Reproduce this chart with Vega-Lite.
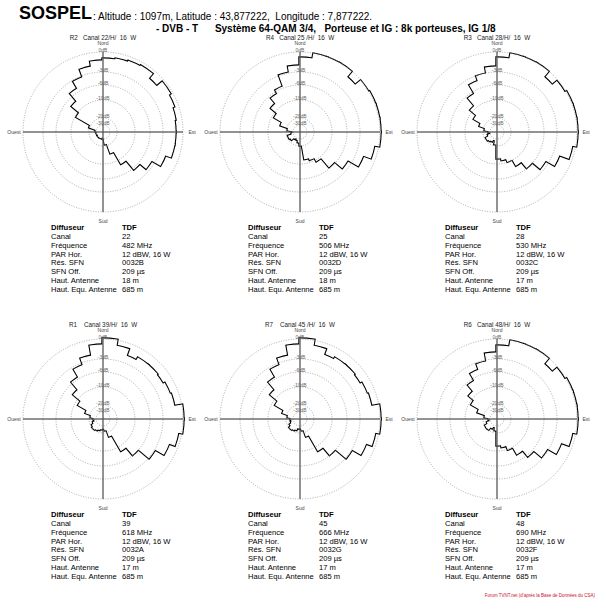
{
"$schema": "https://vega.github.io/schema/vega-lite/v6.json",
"background": "white",
"padding": {"left": 7, "top": 4, "right": 0, "bottom": 0},
"config": {"view": {"stroke": null}, "font": "Liberation Sans", "title": {"font": "Liberation Sans", "color": "#000"}},
"title": {"text": "SOSPEL", "anchor": "start", "frame": "group", "fontSize": 18, "fontWeight": "bold", "dx": 11, "offset": -11},
"datasets": {
"compass": [{"ang": 0, "lab": "Nord"}, {"ang": 90, "lab": "Est"}, {"ang": 180, "lab": "Sud"}, {"ang": 270, "lab": "Ouest"}],
"rings": [{"lvl": 80, "lab": "0dB"}, {"lvl": 60, "lab": "-3dB"}, {"lvl": 47, "lab": "-6dB"}, {"lvl": 32, "lab": "-10dB"}, {"lvl": 14, "lab": "-20dB"}, {"lvl": 7, "lab": "-30dB"}],
"tab": [
{"p":"R2","row":0,"label":"Diffuseur","value":"TDF"},{"p":"R2","row":1,"label":"Canal","value":"22"},{"p":"R2","row":2,"label":"Fréquence","value":"482 MHz"},{"p":"R2","row":3,"label":"PAR Hor.","value":"12 dBW, 16 W"},{"p":"R2","row":4,"label":"Rés. SFN","value":"0032B"},{"p":"R2","row":5,"label":"SFN Off.","value":"209 µs"},{"p":"R2","row":6,"label":"Haut. Antenne","value":"18 m"},{"p":"R2","row":7,"label":"Haut. Equ. Antenne","value":"685 m"},
{"p":"R4","row":0,"label":"Diffuseur","value":"TDF"},{"p":"R4","row":1,"label":"Canal","value":"25"},{"p":"R4","row":2,"label":"Fréquence","value":"506 MHz"},{"p":"R4","row":3,"label":"PAR Hor.","value":"12 dBW, 16 W"},{"p":"R4","row":4,"label":"Rés. SFN","value":"0032D"},{"p":"R4","row":5,"label":"SFN Off.","value":"209 µs"},{"p":"R4","row":6,"label":"Haut. Antenne","value":"18 m"},{"p":"R4","row":7,"label":"Haut. Equ. Antenne","value":"685 m"},
{"p":"R3","row":0,"label":"Diffuseur","value":"TDF"},{"p":"R3","row":1,"label":"Canal","value":"28"},{"p":"R3","row":2,"label":"Fréquence","value":"530 MHz"},{"p":"R3","row":3,"label":"PAR Hor.","value":"12 dBW, 16 W"},{"p":"R3","row":4,"label":"Rés. SFN","value":"0032C"},{"p":"R3","row":5,"label":"SFN Off.","value":"209 µs"},{"p":"R3","row":6,"label":"Haut. Antenne","value":"17 m"},{"p":"R3","row":7,"label":"Haut. Equ. Antenne","value":"685 m"},
{"p":"R1","row":0,"label":"Diffuseur","value":"TDF"},{"p":"R1","row":1,"label":"Canal","value":"39"},{"p":"R1","row":2,"label":"Fréquence","value":"618 MHz"},{"p":"R1","row":3,"label":"PAR Hor.","value":"12 dBW, 16 W"},{"p":"R1","row":4,"label":"Rés. SFN","value":"0032A"},{"p":"R1","row":5,"label":"SFN Off.","value":"209 µs"},{"p":"R1","row":6,"label":"Haut. Antenne","value":"17 m"},{"p":"R1","row":7,"label":"Haut. Equ. Antenne","value":"685 m"},
{"p":"R7","row":0,"label":"Diffuseur","value":"TDF"},{"p":"R7","row":1,"label":"Canal","value":"45"},{"p":"R7","row":2,"label":"Fréquence","value":"666 MHz"},{"p":"R7","row":3,"label":"PAR Hor.","value":"12 dBW, 16 W"},{"p":"R7","row":4,"label":"Rés. SFN","value":"0032G"},{"p":"R7","row":5,"label":"SFN Off.","value":"209 µs"},{"p":"R7","row":6,"label":"Haut. Antenne","value":"17 m"},{"p":"R7","row":7,"label":"Haut. Equ. Antenne","value":"685 m"},
{"p":"R6","row":0,"label":"Diffuseur","value":"TDF"},{"p":"R6","row":1,"label":"Canal","value":"48"},{"p":"R6","row":2,"label":"Fréquence","value":"690 MHz"},{"p":"R6","row":3,"label":"PAR Hor.","value":"12 dBW, 16 W"},{"p":"R6","row":4,"label":"Rés. SFN","value":"0032F"},{"p":"R6","row":5,"label":"SFN Off.","value":"209 µs"},{"p":"R6","row":6,"label":"Haut. Antenne","value":"17 m"},{"p":"R6","row":7,"label":"Haut. Equ. Antenne","value":"685 m"}
],
"pat": [
{"p":"R2","a":0,"b":10,"r":73},{"p":"R2","a":10,"b":20,"r":74},{"p":"R2","a":20,"b":30,"r":75},{"p":"R2","a":30,"b":40,"r":76},{"p":"R2","a":40,"b":50,"r":70},{"p":"R2","a":50,"b":60,"r":77},{"p":"R2","a":60,"b":70,"r":75},{"p":"R2","a":70,"b":80,"r":73},{"p":"R2","a":80,"b":90,"r":72},{"p":"R2","a":90,"b":100,"r":72},{"p":"R2","a":100,"b":110,"r":72},{"p":"R2","a":110,"b":120,"r":66},{"p":"R2","a":120,"b":130,"r":56},{"p":"R2","a":130,"b":140,"r":48},{"p":"R2","a":140,"b":150,"r":36},{"p":"R2","a":150,"b":160,"r":22},{"p":"R2","a":160,"b":170,"r":12},{"p":"R2","a":170,"b":180,"r":6},{"p":"R2","a":180,"b":190,"r":4},{"p":"R2","a":190,"b":200,"r":5},{"p":"R2","a":200,"b":210,"r":6},{"p":"R2","a":210,"b":220,"r":5},{"p":"R2","a":220,"b":230,"r":6},{"p":"R2","a":230,"b":240,"r":4},{"p":"R2","a":240,"b":250,"r":5},{"p":"R2","a":250,"b":260,"r":6},{"p":"R2","a":260,"b":270,"r":5},{"p":"R2","a":270,"b":280,"r":6},{"p":"R2","a":280,"b":290,"r":7},{"p":"R2","a":290,"b":300,"r":14},{"p":"R2","a":300,"b":310,"r":30},{"p":"R2","a":310,"b":320,"r":40},{"p":"R2","a":320,"b":330,"r":50},{"p":"R2","a":330,"b":340,"r":58},{"p":"R2","a":340,"b":350,"r":66},{"p":"R2","a":350,"b":360,"r":71},
{"p":"R4","a":0,"b":10,"r":74},{"p":"R4","a":10,"b":20,"r":79},{"p":"R4","a":20,"b":30,"r":79},{"p":"R4","a":30,"b":40,"r":79},{"p":"R4","a":40,"b":50,"r":72},{"p":"R4","a":50,"b":60,"r":79},{"p":"R4","a":60,"b":70,"r":80},{"p":"R4","a":70,"b":80,"r":80},{"p":"R4","a":80,"b":90,"r":80},{"p":"R4","a":90,"b":100,"r":80},{"p":"R4","a":100,"b":110,"r":75},{"p":"R4","a":110,"b":120,"r":67},{"p":"R4","a":120,"b":130,"r":55},{"p":"R4","a":130,"b":140,"r":45},{"p":"R4","a":140,"b":150,"r":33},{"p":"R4","a":150,"b":160,"r":29},{"p":"R4","a":160,"b":170,"r":27},{"p":"R4","a":170,"b":180,"r":13},{"p":"R4","a":180,"b":190,"r":10},{"p":"R4","a":190,"b":200,"r":8},{"p":"R4","a":200,"b":210,"r":6},{"p":"R4","a":210,"b":220,"r":7},{"p":"R4","a":220,"b":230,"r":8},{"p":"R4","a":230,"b":240,"r":11},{"p":"R4","a":240,"b":250,"r":12},{"p":"R4","a":250,"b":260,"r":8},{"p":"R4","a":260,"b":270,"r":6},{"p":"R4","a":270,"b":280,"r":7},{"p":"R4","a":280,"b":290,"r":12},{"p":"R4","a":290,"b":300,"r":20},{"p":"R4","a":300,"b":310,"r":29},{"p":"R4","a":310,"b":320,"r":37},{"p":"R4","a":320,"b":330,"r":44},{"p":"R4","a":330,"b":340,"r":48},{"p":"R4","a":340,"b":350,"r":60},{"p":"R4","a":350,"b":360,"r":66},
{"p":"R3","a":0,"b":10,"r":74},{"p":"R3","a":10,"b":20,"r":79},{"p":"R3","a":20,"b":30,"r":79},{"p":"R3","a":30,"b":40,"r":79},{"p":"R3","a":40,"b":50,"r":72},{"p":"R3","a":50,"b":60,"r":78},{"p":"R3","a":60,"b":70,"r":80},{"p":"R3","a":70,"b":80,"r":80},{"p":"R3","a":80,"b":90,"r":80},{"p":"R3","a":90,"b":100,"r":80},{"p":"R3","a":100,"b":110,"r":76},{"p":"R3","a":110,"b":120,"r":66},{"p":"R3","a":120,"b":130,"r":56},{"p":"R3","a":130,"b":140,"r":46},{"p":"R3","a":140,"b":150,"r":38},{"p":"R3","a":150,"b":160,"r":31},{"p":"R3","a":160,"b":170,"r":28},{"p":"R3","a":170,"b":180,"r":26},{"p":"R3","a":180,"b":190,"r":12},{"p":"R3","a":190,"b":200,"r":8},{"p":"R3","a":200,"b":210,"r":8},{"p":"R3","a":210,"b":220,"r":10},{"p":"R3","a":220,"b":230,"r":11},{"p":"R3","a":230,"b":240,"r":12},{"p":"R3","a":240,"b":250,"r":9},{"p":"R3","a":250,"b":260,"r":6},{"p":"R3","a":260,"b":270,"r":6},{"p":"R3","a":270,"b":280,"r":8},{"p":"R3","a":280,"b":290,"r":12},{"p":"R3","a":290,"b":300,"r":18},{"p":"R3","a":300,"b":310,"r":26},{"p":"R3","a":310,"b":320,"r":34},{"p":"R3","a":320,"b":330,"r":44},{"p":"R3","a":330,"b":340,"r":54},{"p":"R3","a":340,"b":350,"r":59},{"p":"R3","a":350,"b":360,"r":65},
{"p":"R1","a":0,"b":10,"r":80},{"p":"R1","a":10,"b":20,"r":74},{"p":"R1","a":20,"b":30,"r":67},{"p":"R1","a":30,"b":40,"r":70},{"p":"R1","a":40,"b":50,"r":70},{"p":"R1","a":50,"b":60,"r":69},{"p":"R1","a":60,"b":70,"r":71},{"p":"R1","a":70,"b":80,"r":72},{"p":"R1","a":80,"b":90,"r":80},{"p":"R1","a":90,"b":100,"r":80},{"p":"R1","a":100,"b":110,"r":76},{"p":"R1","a":110,"b":120,"r":70},{"p":"R1","a":120,"b":130,"r":60},{"p":"R1","a":130,"b":140,"r":46},{"p":"R1","a":140,"b":150,"r":36},{"p":"R1","a":150,"b":160,"r":18},{"p":"R1","a":160,"b":170,"r":11},{"p":"R1","a":170,"b":180,"r":9},{"p":"R1","a":180,"b":190,"r":9},{"p":"R1","a":190,"b":200,"r":10},{"p":"R1","a":200,"b":210,"r":11},{"p":"R1","a":210,"b":220,"r":12},{"p":"R1","a":220,"b":230,"r":13},{"p":"R1","a":230,"b":240,"r":12},{"p":"R1","a":240,"b":250,"r":10},{"p":"R1","a":250,"b":260,"r":8},{"p":"R1","a":260,"b":270,"r":8},{"p":"R1","a":270,"b":280,"r":9},{"p":"R1","a":280,"b":290,"r":12},{"p":"R1","a":290,"b":300,"r":18},{"p":"R1","a":300,"b":310,"r":28},{"p":"R1","a":310,"b":320,"r":38},{"p":"R1","a":320,"b":330,"r":48},{"p":"R1","a":330,"b":340,"r":57},{"p":"R1","a":340,"b":350,"r":64},{"p":"R1","a":350,"b":360,"r":74},
{"p":"R7","a":0,"b":10,"r":80},{"p":"R7","a":10,"b":20,"r":74},{"p":"R7","a":20,"b":30,"r":68},{"p":"R7","a":30,"b":40,"r":70},{"p":"R7","a":40,"b":50,"r":70},{"p":"R7","a":50,"b":60,"r":69},{"p":"R7","a":60,"b":70,"r":71},{"p":"R7","a":70,"b":80,"r":72},{"p":"R7","a":80,"b":90,"r":80},{"p":"R7","a":90,"b":100,"r":80},{"p":"R7","a":100,"b":110,"r":76},{"p":"R7","a":110,"b":120,"r":70},{"p":"R7","a":120,"b":130,"r":60},{"p":"R7","a":130,"b":140,"r":46},{"p":"R7","a":140,"b":150,"r":36},{"p":"R7","a":150,"b":160,"r":18},{"p":"R7","a":160,"b":170,"r":11},{"p":"R7","a":170,"b":180,"r":9},{"p":"R7","a":180,"b":190,"r":8},{"p":"R7","a":190,"b":200,"r":9},{"p":"R7","a":200,"b":210,"r":11},{"p":"R7","a":210,"b":220,"r":12},{"p":"R7","a":220,"b":230,"r":13},{"p":"R7","a":230,"b":240,"r":11},{"p":"R7","a":240,"b":250,"r":9},{"p":"R7","a":250,"b":260,"r":8},{"p":"R7","a":260,"b":270,"r":8},{"p":"R7","a":270,"b":280,"r":9},{"p":"R7","a":280,"b":290,"r":12},{"p":"R7","a":290,"b":300,"r":18},{"p":"R7","a":300,"b":310,"r":28},{"p":"R7","a":310,"b":320,"r":38},{"p":"R7","a":320,"b":330,"r":48},{"p":"R7","a":330,"b":340,"r":57},{"p":"R7","a":340,"b":350,"r":64},{"p":"R7","a":350,"b":360,"r":74},
{"p":"R6","a":0,"b":10,"r":73},{"p":"R6","a":10,"b":20,"r":79},{"p":"R6","a":20,"b":30,"r":79},{"p":"R6","a":30,"b":40,"r":79},{"p":"R6","a":40,"b":50,"r":72},{"p":"R6","a":50,"b":60,"r":78},{"p":"R6","a":60,"b":70,"r":80},{"p":"R6","a":70,"b":80,"r":80},{"p":"R6","a":80,"b":90,"r":80},{"p":"R6","a":90,"b":100,"r":80},{"p":"R6","a":100,"b":110,"r":76},{"p":"R6","a":110,"b":120,"r":68},{"p":"R6","a":120,"b":130,"r":58},{"p":"R6","a":130,"b":140,"r":48},{"p":"R6","a":140,"b":150,"r":40},{"p":"R6","a":150,"b":160,"r":32},{"p":"R6","a":160,"b":170,"r":28},{"p":"R6","a":170,"b":180,"r":26},{"p":"R6","a":180,"b":190,"r":11},{"p":"R6","a":190,"b":200,"r":8},{"p":"R6","a":200,"b":210,"r":8},{"p":"R6","a":210,"b":220,"r":10},{"p":"R6","a":220,"b":230,"r":13},{"p":"R6","a":230,"b":240,"r":13},{"p":"R6","a":240,"b":250,"r":10},{"p":"R6","a":250,"b":260,"r":7},{"p":"R6","a":260,"b":270,"r":6},{"p":"R6","a":270,"b":280,"r":8},{"p":"R6","a":280,"b":290,"r":12},{"p":"R6","a":290,"b":300,"r":20},{"p":"R6","a":300,"b":310,"r":29},{"p":"R6","a":310,"b":320,"r":36},{"p":"R6","a":320,"b":330,"r":44},{"p":"R6","a":330,"b":340,"r":52},{"p":"R6","a":340,"b":350,"r":58},{"p":"R6","a":350,"b":360,"r":66}
]
},
"vconcat": [
{
"title": {"text": ": Altitude : 1097m, Latitude : 43,877222,\u00a0 Longitude : 7,877222.", "anchor": "start", "frame": "group", "fontSize": 10, "fontWeight": "normal", "dx": 85, "offset": 2},
"spacing": 27,
"vconcat": [
{
"title": {"text": "- DVB - T\u00a0\u00a0\u00a0\u00a0\u00a0 Système 64-QAM 3/4,\u00a0\u00a0 Porteuse et IG : 8k porteuses, IG 1/8", "anchor": "start", "frame": "group", "fontSize": 10, "fontWeight": "bold", "dx": 148, "offset": 1},
"spacing": 6,
"hconcat": [
{"spacing": 0, "vconcat": [
{"width": 190, "height": 180, "title": {"text": "R2\u00a0\u00a0\u00a0Canal 22/H/\u00a0\u00a016\u00a0\u00a0W", "fontSize": 6.3, "fontWeight": "normal", "offset": 0, "color": "#222"},
"layer": [
{"data": {"name": "pat"}, "transform": [{"filter": "datum.p === 'R2'"}], "mark": {"type": "arc", "filled": false, "stroke": "#000", "strokeWidth": 3.4}, "encoding": {"theta": {"field": "a", "type": "quantitative", "stack": null, "scale": {"domain": [0, 360]}}, "theta2": {"field": "b"}, "radius": {"field": "r", "type": "quantitative", "stack": null, "scale": {"type": "linear", "domain": [0, 90], "range": [0, 90]}}}},
{"data": {"name": "pat"}, "transform": [{"filter": "datum.p === 'R2'"}], "mark": {"type": "arc", "fill": "#fff", "stroke": "#fff", "strokeWidth": 1.2}, "encoding": {"theta": {"field": "a", "type": "quantitative", "stack": null, "scale": {"domain": [0, 360]}}, "theta2": {"field": "b"}, "radius": {"field": "r", "type": "quantitative", "stack": null, "scale": {"type": "linear", "domain": [0, 90], "range": [0, 90]}}}},
{"data": {"name": "rings"}, "mark": {"type": "arc", "filled": false, "stroke": "#888", "strokeWidth": 0.7, "strokeDash": [1, 1.5]}, "encoding": {"theta": {"datum": 0, "scale": {"domain": [0, 360]}}, "theta2": {"datum": 360}, "radius": {"field": "lvl", "type": "quantitative", "stack": null, "scale": {"type": "linear", "domain": [0, 90], "range": [0, 90]}}}},
{"data": {"name": "compass"}, "mark": {"type": "arc", "filled": false, "stroke": "#555", "strokeWidth": 0.8}, "encoding": {"theta": {"field": "ang", "type": "quantitative", "stack": null, "scale": {"domain": [0, 360]}}, "theta2": {"field": "ang"}, "radius": {"datum": 0, "scale": {"type": "linear", "domain": [0, 90], "range": [0, 90]}}, "radius2": {"datum": 80}}},
{"data": {"name": "rings"}, "mark": {"type": "text", "fontSize": 5, "color": "#666", "radiusOffset": 2}, "encoding": {"theta": {"datum": 0, "scale": {"domain": [0, 360]}}, "radius": {"field": "lvl", "type": "quantitative", "stack": null, "scale": {"type": "linear", "domain": [0, 90], "range": [0, 90]}}, "text": {"field": "lab"}}},
{"data": {"name": "compass"}, "mark": {"type": "text", "fontSize": 5, "color": "#444", "radiusOffset": 9}, "encoding": {"theta": {"field": "ang", "type": "quantitative", "stack": null, "scale": {"domain": [0, 360]}}, "radius": {"datum": 80, "scale": {"type": "linear", "domain": [0, 90], "range": [0, 90]}}, "text": {"field": "lab"}}}
]},
{"width": 190, "height": 62, "data": {"name": "tab"}, "transform": [{"filter": "datum.p === 'R2'"}, {"fold": ["label", "value"], "as": ["col", "txt"]}],
"encoding": {"x": {"field": "col", "type": "nominal", "scale": {"type": "point", "padding": 0.838, "align": 0.361}, "axis": null}, "y": {"field": "row", "type": "ordinal", "scale": {"type": "point", "padding": 0}, "axis": null}, "text": {"field": "txt"}},
"layer": [
{"transform": [{"filter": "datum.row > 0"}], "mark": {"type": "text", "align": "left", "baseline": "middle", "fontSize": 7.6}},
{"transform": [{"filter": "datum.row == 0"}], "mark": {"type": "text", "align": "left", "baseline": "middle", "fontSize": 7.6, "fontWeight": "bold"}}
]}
]},
{"spacing": 0, "vconcat": [
{"width": 190, "height": 180, "title": {"text": "R4\u00a0\u00a0\u00a0Canal 25 /H/\u00a0\u00a016\u00a0\u00a0W", "fontSize": 6.3, "fontWeight": "normal", "offset": 0, "color": "#222"},
"layer": [
{"data": {"name": "pat"}, "transform": [{"filter": "datum.p === 'R4'"}], "mark": {"type": "arc", "filled": false, "stroke": "#000", "strokeWidth": 3.4}, "encoding": {"theta": {"field": "a", "type": "quantitative", "stack": null, "scale": {"domain": [0, 360]}}, "theta2": {"field": "b"}, "radius": {"field": "r", "type": "quantitative", "stack": null, "scale": {"type": "linear", "domain": [0, 90], "range": [0, 90]}}}},
{"data": {"name": "pat"}, "transform": [{"filter": "datum.p === 'R4'"}], "mark": {"type": "arc", "fill": "#fff", "stroke": "#fff", "strokeWidth": 1.2}, "encoding": {"theta": {"field": "a", "type": "quantitative", "stack": null, "scale": {"domain": [0, 360]}}, "theta2": {"field": "b"}, "radius": {"field": "r", "type": "quantitative", "stack": null, "scale": {"type": "linear", "domain": [0, 90], "range": [0, 90]}}}},
{"data": {"name": "rings"}, "mark": {"type": "arc", "filled": false, "stroke": "#888", "strokeWidth": 0.7, "strokeDash": [1, 1.5]}, "encoding": {"theta": {"datum": 0, "scale": {"domain": [0, 360]}}, "theta2": {"datum": 360}, "radius": {"field": "lvl", "type": "quantitative", "stack": null, "scale": {"type": "linear", "domain": [0, 90], "range": [0, 90]}}}},
{"data": {"name": "compass"}, "mark": {"type": "arc", "filled": false, "stroke": "#555", "strokeWidth": 0.8}, "encoding": {"theta": {"field": "ang", "type": "quantitative", "stack": null, "scale": {"domain": [0, 360]}}, "theta2": {"field": "ang"}, "radius": {"datum": 0, "scale": {"type": "linear", "domain": [0, 90], "range": [0, 90]}}, "radius2": {"datum": 80}}},
{"data": {"name": "rings"}, "mark": {"type": "text", "fontSize": 5, "color": "#666", "radiusOffset": 2}, "encoding": {"theta": {"datum": 0, "scale": {"domain": [0, 360]}}, "radius": {"field": "lvl", "type": "quantitative", "stack": null, "scale": {"type": "linear", "domain": [0, 90], "range": [0, 90]}}, "text": {"field": "lab"}}},
{"data": {"name": "compass"}, "mark": {"type": "text", "fontSize": 5, "color": "#444", "radiusOffset": 9}, "encoding": {"theta": {"field": "ang", "type": "quantitative", "stack": null, "scale": {"domain": [0, 360]}}, "radius": {"datum": 80, "scale": {"type": "linear", "domain": [0, 90], "range": [0, 90]}}, "text": {"field": "lab"}}}
]},
{"width": 190, "height": 62, "data": {"name": "tab"}, "transform": [{"filter": "datum.p === 'R4'"}, {"fold": ["label", "value"], "as": ["col", "txt"]}],
"encoding": {"x": {"field": "col", "type": "nominal", "scale": {"type": "point", "padding": 0.838, "align": 0.361}, "axis": null}, "y": {"field": "row", "type": "ordinal", "scale": {"type": "point", "padding": 0}, "axis": null}, "text": {"field": "txt"}},
"layer": [
{"transform": [{"filter": "datum.row > 0"}], "mark": {"type": "text", "align": "left", "baseline": "middle", "fontSize": 7.6}},
{"transform": [{"filter": "datum.row == 0"}], "mark": {"type": "text", "align": "left", "baseline": "middle", "fontSize": 7.6, "fontWeight": "bold"}}
]}
]},
{"spacing": 0, "vconcat": [
{"width": 190, "height": 180, "title": {"text": "R3\u00a0\u00a0\u00a0Canal 28/H/\u00a0\u00a016\u00a0\u00a0W", "fontSize": 6.3, "fontWeight": "normal", "offset": 0, "color": "#222"},
"layer": [
{"data": {"name": "pat"}, "transform": [{"filter": "datum.p === 'R3'"}], "mark": {"type": "arc", "filled": false, "stroke": "#000", "strokeWidth": 3.4}, "encoding": {"theta": {"field": "a", "type": "quantitative", "stack": null, "scale": {"domain": [0, 360]}}, "theta2": {"field": "b"}, "radius": {"field": "r", "type": "quantitative", "stack": null, "scale": {"type": "linear", "domain": [0, 90], "range": [0, 90]}}}},
{"data": {"name": "pat"}, "transform": [{"filter": "datum.p === 'R3'"}], "mark": {"type": "arc", "fill": "#fff", "stroke": "#fff", "strokeWidth": 1.2}, "encoding": {"theta": {"field": "a", "type": "quantitative", "stack": null, "scale": {"domain": [0, 360]}}, "theta2": {"field": "b"}, "radius": {"field": "r", "type": "quantitative", "stack": null, "scale": {"type": "linear", "domain": [0, 90], "range": [0, 90]}}}},
{"data": {"name": "rings"}, "mark": {"type": "arc", "filled": false, "stroke": "#888", "strokeWidth": 0.7, "strokeDash": [1, 1.5]}, "encoding": {"theta": {"datum": 0, "scale": {"domain": [0, 360]}}, "theta2": {"datum": 360}, "radius": {"field": "lvl", "type": "quantitative", "stack": null, "scale": {"type": "linear", "domain": [0, 90], "range": [0, 90]}}}},
{"data": {"name": "compass"}, "mark": {"type": "arc", "filled": false, "stroke": "#555", "strokeWidth": 0.8}, "encoding": {"theta": {"field": "ang", "type": "quantitative", "stack": null, "scale": {"domain": [0, 360]}}, "theta2": {"field": "ang"}, "radius": {"datum": 0, "scale": {"type": "linear", "domain": [0, 90], "range": [0, 90]}}, "radius2": {"datum": 80}}},
{"data": {"name": "rings"}, "mark": {"type": "text", "fontSize": 5, "color": "#666", "radiusOffset": 2}, "encoding": {"theta": {"datum": 0, "scale": {"domain": [0, 360]}}, "radius": {"field": "lvl", "type": "quantitative", "stack": null, "scale": {"type": "linear", "domain": [0, 90], "range": [0, 90]}}, "text": {"field": "lab"}}},
{"data": {"name": "compass"}, "mark": {"type": "text", "fontSize": 5, "color": "#444", "radiusOffset": 9}, "encoding": {"theta": {"field": "ang", "type": "quantitative", "stack": null, "scale": {"domain": [0, 360]}}, "radius": {"datum": 80, "scale": {"type": "linear", "domain": [0, 90], "range": [0, 90]}}, "text": {"field": "lab"}}}
]},
{"width": 190, "height": 62, "data": {"name": "tab"}, "transform": [{"filter": "datum.p === 'R3'"}, {"fold": ["label", "value"], "as": ["col", "txt"]}],
"encoding": {"x": {"field": "col", "type": "nominal", "scale": {"type": "point", "padding": 0.838, "align": 0.361}, "axis": null}, "y": {"field": "row", "type": "ordinal", "scale": {"type": "point", "padding": 0}, "axis": null}, "text": {"field": "txt"}},
"layer": [
{"transform": [{"filter": "datum.row > 0"}], "mark": {"type": "text", "align": "left", "baseline": "middle", "fontSize": 7.6}},
{"transform": [{"filter": "datum.row == 0"}], "mark": {"type": "text", "align": "left", "baseline": "middle", "fontSize": 7.6, "fontWeight": "bold"}}
]}
]}
]
},
{
"title": {"text": "Forum TVNT.net (d'après la Base de Données du CSA)", "orient": "bottom", "anchor": "end", "frame": "bounds", "fontSize": 4.5, "fontWeight": "normal", "color": "#c8102e", "offset": 12, "dx": 3},
"spacing": 6,
"hconcat": [
{"spacing": 0, "vconcat": [
{"width": 190, "height": 180, "title": {"text": "R1\u00a0\u00a0\u00a0\u00a0Canal 39/H/\u00a0\u00a016\u00a0\u00a0W", "fontSize": 6.3, "fontWeight": "normal", "offset": 0, "color": "#222"},
"layer": [
{"data": {"name": "pat"}, "transform": [{"filter": "datum.p === 'R1'"}], "mark": {"type": "arc", "filled": false, "stroke": "#000", "strokeWidth": 3.4}, "encoding": {"theta": {"field": "a", "type": "quantitative", "stack": null, "scale": {"domain": [0, 360]}}, "theta2": {"field": "b"}, "radius": {"field": "r", "type": "quantitative", "stack": null, "scale": {"type": "linear", "domain": [0, 90], "range": [0, 90]}}}},
{"data": {"name": "pat"}, "transform": [{"filter": "datum.p === 'R1'"}], "mark": {"type": "arc", "fill": "#fff", "stroke": "#fff", "strokeWidth": 1.2}, "encoding": {"theta": {"field": "a", "type": "quantitative", "stack": null, "scale": {"domain": [0, 360]}}, "theta2": {"field": "b"}, "radius": {"field": "r", "type": "quantitative", "stack": null, "scale": {"type": "linear", "domain": [0, 90], "range": [0, 90]}}}},
{"data": {"name": "rings"}, "mark": {"type": "arc", "filled": false, "stroke": "#888", "strokeWidth": 0.7, "strokeDash": [1, 1.5]}, "encoding": {"theta": {"datum": 0, "scale": {"domain": [0, 360]}}, "theta2": {"datum": 360}, "radius": {"field": "lvl", "type": "quantitative", "stack": null, "scale": {"type": "linear", "domain": [0, 90], "range": [0, 90]}}}},
{"data": {"name": "compass"}, "mark": {"type": "arc", "filled": false, "stroke": "#555", "strokeWidth": 0.8}, "encoding": {"theta": {"field": "ang", "type": "quantitative", "stack": null, "scale": {"domain": [0, 360]}}, "theta2": {"field": "ang"}, "radius": {"datum": 0, "scale": {"type": "linear", "domain": [0, 90], "range": [0, 90]}}, "radius2": {"datum": 80}}},
{"data": {"name": "rings"}, "mark": {"type": "text", "fontSize": 5, "color": "#666", "radiusOffset": 2}, "encoding": {"theta": {"datum": 0, "scale": {"domain": [0, 360]}}, "radius": {"field": "lvl", "type": "quantitative", "stack": null, "scale": {"type": "linear", "domain": [0, 90], "range": [0, 90]}}, "text": {"field": "lab"}}},
{"data": {"name": "compass"}, "mark": {"type": "text", "fontSize": 5, "color": "#444", "radiusOffset": 9}, "encoding": {"theta": {"field": "ang", "type": "quantitative", "stack": null, "scale": {"domain": [0, 360]}}, "radius": {"datum": 80, "scale": {"type": "linear", "domain": [0, 90], "range": [0, 90]}}, "text": {"field": "lab"}}}
]},
{"width": 190, "height": 62, "data": {"name": "tab"}, "transform": [{"filter": "datum.p === 'R1'"}, {"fold": ["label", "value"], "as": ["col", "txt"]}],
"encoding": {"x": {"field": "col", "type": "nominal", "scale": {"type": "point", "padding": 0.838, "align": 0.361}, "axis": null}, "y": {"field": "row", "type": "ordinal", "scale": {"type": "point", "padding": 0}, "axis": null}, "text": {"field": "txt"}},
"layer": [
{"transform": [{"filter": "datum.row > 0"}], "mark": {"type": "text", "align": "left", "baseline": "middle", "fontSize": 7.6}},
{"transform": [{"filter": "datum.row == 0"}], "mark": {"type": "text", "align": "left", "baseline": "middle", "fontSize": 7.6, "fontWeight": "bold"}}
]}
]},
{"spacing": 0, "vconcat": [
{"width": 190, "height": 180, "title": {"text": "R7\u00a0\u00a0\u00a0\u00a0Canal 45 /H/\u00a0\u00a016\u00a0\u00a0W", "fontSize": 6.3, "fontWeight": "normal", "offset": 0, "color": "#222"},
"layer": [
{"data": {"name": "pat"}, "transform": [{"filter": "datum.p === 'R7'"}], "mark": {"type": "arc", "filled": false, "stroke": "#000", "strokeWidth": 3.4}, "encoding": {"theta": {"field": "a", "type": "quantitative", "stack": null, "scale": {"domain": [0, 360]}}, "theta2": {"field": "b"}, "radius": {"field": "r", "type": "quantitative", "stack": null, "scale": {"type": "linear", "domain": [0, 90], "range": [0, 90]}}}},
{"data": {"name": "pat"}, "transform": [{"filter": "datum.p === 'R7'"}], "mark": {"type": "arc", "fill": "#fff", "stroke": "#fff", "strokeWidth": 1.2}, "encoding": {"theta": {"field": "a", "type": "quantitative", "stack": null, "scale": {"domain": [0, 360]}}, "theta2": {"field": "b"}, "radius": {"field": "r", "type": "quantitative", "stack": null, "scale": {"type": "linear", "domain": [0, 90], "range": [0, 90]}}}},
{"data": {"name": "rings"}, "mark": {"type": "arc", "filled": false, "stroke": "#888", "strokeWidth": 0.7, "strokeDash": [1, 1.5]}, "encoding": {"theta": {"datum": 0, "scale": {"domain": [0, 360]}}, "theta2": {"datum": 360}, "radius": {"field": "lvl", "type": "quantitative", "stack": null, "scale": {"type": "linear", "domain": [0, 90], "range": [0, 90]}}}},
{"data": {"name": "compass"}, "mark": {"type": "arc", "filled": false, "stroke": "#555", "strokeWidth": 0.8}, "encoding": {"theta": {"field": "ang", "type": "quantitative", "stack": null, "scale": {"domain": [0, 360]}}, "theta2": {"field": "ang"}, "radius": {"datum": 0, "scale": {"type": "linear", "domain": [0, 90], "range": [0, 90]}}, "radius2": {"datum": 80}}},
{"data": {"name": "rings"}, "mark": {"type": "text", "fontSize": 5, "color": "#666", "radiusOffset": 2}, "encoding": {"theta": {"datum": 0, "scale": {"domain": [0, 360]}}, "radius": {"field": "lvl", "type": "quantitative", "stack": null, "scale": {"type": "linear", "domain": [0, 90], "range": [0, 90]}}, "text": {"field": "lab"}}},
{"data": {"name": "compass"}, "mark": {"type": "text", "fontSize": 5, "color": "#444", "radiusOffset": 9}, "encoding": {"theta": {"field": "ang", "type": "quantitative", "stack": null, "scale": {"domain": [0, 360]}}, "radius": {"datum": 80, "scale": {"type": "linear", "domain": [0, 90], "range": [0, 90]}}, "text": {"field": "lab"}}}
]},
{"width": 190, "height": 62, "data": {"name": "tab"}, "transform": [{"filter": "datum.p === 'R7'"}, {"fold": ["label", "value"], "as": ["col", "txt"]}],
"encoding": {"x": {"field": "col", "type": "nominal", "scale": {"type": "point", "padding": 0.838, "align": 0.361}, "axis": null}, "y": {"field": "row", "type": "ordinal", "scale": {"type": "point", "padding": 0}, "axis": null}, "text": {"field": "txt"}},
"layer": [
{"transform": [{"filter": "datum.row > 0"}], "mark": {"type": "text", "align": "left", "baseline": "middle", "fontSize": 7.6}},
{"transform": [{"filter": "datum.row == 0"}], "mark": {"type": "text", "align": "left", "baseline": "middle", "fontSize": 7.6, "fontWeight": "bold"}}
]}
]},
{"spacing": 0, "vconcat": [
{"width": 190, "height": 180, "title": {"text": "R6\u00a0\u00a0\u00a0Canal 48/H/\u00a0\u00a016\u00a0\u00a0W", "fontSize": 6.3, "fontWeight": "normal", "offset": 0, "color": "#222"},
"layer": [
{"data": {"name": "pat"}, "transform": [{"filter": "datum.p === 'R6'"}], "mark": {"type": "arc", "filled": false, "stroke": "#000", "strokeWidth": 3.4}, "encoding": {"theta": {"field": "a", "type": "quantitative", "stack": null, "scale": {"domain": [0, 360]}}, "theta2": {"field": "b"}, "radius": {"field": "r", "type": "quantitative", "stack": null, "scale": {"type": "linear", "domain": [0, 90], "range": [0, 90]}}}},
{"data": {"name": "pat"}, "transform": [{"filter": "datum.p === 'R6'"}], "mark": {"type": "arc", "fill": "#fff", "stroke": "#fff", "strokeWidth": 1.2}, "encoding": {"theta": {"field": "a", "type": "quantitative", "stack": null, "scale": {"domain": [0, 360]}}, "theta2": {"field": "b"}, "radius": {"field": "r", "type": "quantitative", "stack": null, "scale": {"type": "linear", "domain": [0, 90], "range": [0, 90]}}}},
{"data": {"name": "rings"}, "mark": {"type": "arc", "filled": false, "stroke": "#888", "strokeWidth": 0.7, "strokeDash": [1, 1.5]}, "encoding": {"theta": {"datum": 0, "scale": {"domain": [0, 360]}}, "theta2": {"datum": 360}, "radius": {"field": "lvl", "type": "quantitative", "stack": null, "scale": {"type": "linear", "domain": [0, 90], "range": [0, 90]}}}},
{"data": {"name": "compass"}, "mark": {"type": "arc", "filled": false, "stroke": "#555", "strokeWidth": 0.8}, "encoding": {"theta": {"field": "ang", "type": "quantitative", "stack": null, "scale": {"domain": [0, 360]}}, "theta2": {"field": "ang"}, "radius": {"datum": 0, "scale": {"type": "linear", "domain": [0, 90], "range": [0, 90]}}, "radius2": {"datum": 80}}},
{"data": {"name": "rings"}, "mark": {"type": "text", "fontSize": 5, "color": "#666", "radiusOffset": 2}, "encoding": {"theta": {"datum": 0, "scale": {"domain": [0, 360]}}, "radius": {"field": "lvl", "type": "quantitative", "stack": null, "scale": {"type": "linear", "domain": [0, 90], "range": [0, 90]}}, "text": {"field": "lab"}}},
{"data": {"name": "compass"}, "mark": {"type": "text", "fontSize": 5, "color": "#444", "radiusOffset": 9}, "encoding": {"theta": {"field": "ang", "type": "quantitative", "stack": null, "scale": {"domain": [0, 360]}}, "radius": {"datum": 80, "scale": {"type": "linear", "domain": [0, 90], "range": [0, 90]}}, "text": {"field": "lab"}}}
]},
{"width": 190, "height": 62, "data": {"name": "tab"}, "transform": [{"filter": "datum.p === 'R6'"}, {"fold": ["label", "value"], "as": ["col", "txt"]}],
"encoding": {"x": {"field": "col", "type": "nominal", "scale": {"type": "point", "padding": 0.838, "align": 0.361}, "axis": null}, "y": {"field": "row", "type": "ordinal", "scale": {"type": "point", "padding": 0}, "axis": null}, "text": {"field": "txt"}},
"layer": [
{"transform": [{"filter": "datum.row > 0"}], "mark": {"type": "text", "align": "left", "baseline": "middle", "fontSize": 7.6}},
{"transform": [{"filter": "datum.row == 0"}], "mark": {"type": "text", "align": "left", "baseline": "middle", "fontSize": 7.6, "fontWeight": "bold"}}
]}
]}
]
}
]
}
]
}
